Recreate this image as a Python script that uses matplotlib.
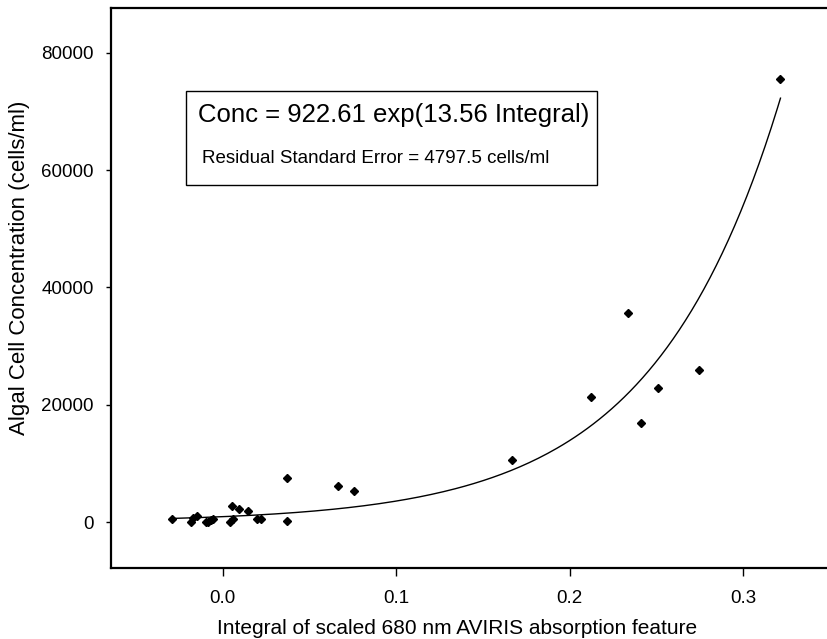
import numpy as np
import matplotlib.pyplot as plt

plt.rcParams['font.family'] = ['Liberation Sans', 'DejaVu Sans']

# integral of scaled 680 nm absorption feature vs. algal cell concentration
integral = [-0.0294, -0.0185, -0.0170, -0.0150, -0.0096, -0.0083, -0.0067, -0.0054,
            0.0052, 0.0042, 0.0058, 0.0092, 0.0148, 0.0196, 0.0219, 0.0369, 0.0369,
            0.0667, 0.0757, 0.1667, 0.2122, 0.2336, 0.2412, 0.2509, 0.2749, 0.3216]
conc = [511, 51, 631, 1074, 51, 51, 341, 511,
        2728, 51, 511, 2217, 1927, 511, 511, 7451, 222,
        6189, 5234, 10571, 21261, 35686, 16931, 22847, 25916, 75583]

# fitted model
a, b = 922.61, 13.56
x_fit = np.linspace(-0.03, 0.3216, 200)
y_fit = a * np.exp(b * x_fit)

fig = plt.figure(figsize=(8.28, 6.39), dpi=100)
ax = fig.add_axes([0.134, 0.111, 0.866, 0.8765])

ax.plot(x_fit, y_fit, color='black', lw=1.0)
ax.plot(integral, conc, 'D', color='black', markersize=4.3)

ax.set_xlim(-0.0644, 0.349)
ax.set_ylim(-7840, 87640)
ax.set_xticks([0.0, 0.1, 0.2, 0.3])
ax.set_yticks([0, 20000, 40000, 60000, 80000])
ax.tick_params(axis='x', labelsize=13.5, length=6, width=1, pad=10)
ax.tick_params(axis='y', labelsize=13.5, length=3.5, width=1, pad=9)

for s in ['left', 'bottom', 'top']:
    ax.spines[s].set_linewidth(1.6)
ax.spines['right'].set_visible(False)

ax.set_xlabel('Integral of scaled 680 nm AVIRIS absorption feature', fontsize=15)
ax.xaxis.set_label_coords(0.483, -0.091)
ax.set_ylabel('Algal Cell Concentration (cells/ml)', fontsize=16)
ax.yaxis.set_label_coords(-0.113, 0.536)

# equation box
ax.add_patch(plt.Rectangle((-0.0212, 57460), 0.237, 16030, transform=ax.transData,
                           fill=False, edgecolor='black', lw=1.0))
ax.text(-0.0142, 68250, 'Conc = 922.61 exp(13.56 Integral)', fontsize=18.5, va='baseline')
ax.text(-0.0119, 61160, 'Residual Standard Error = 4797.5 cells/ml', fontsize=13.5, va='baseline')

fig.savefig('out.png', dpi=100)
